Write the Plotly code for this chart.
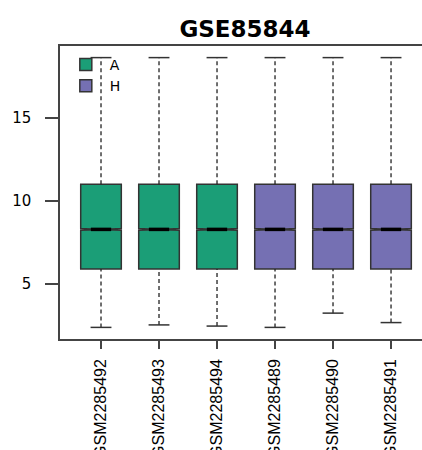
import plotly.graph_objects as go

samples = ["GSM2285492", "GSM2285493", "GSM2285494", "GSM2285489", "GSM2285490", "GSM2285491"]
groups = ["A", "A", "A", "H", "H", "H"]
q1 = [5.89, 5.89, 5.89, 5.89, 5.89, 5.89]
median = [8.28, 8.28, 8.28, 8.28, 8.28, 8.28]
q3 = [11.0, 11.0, 11.0, 11.0, 11.0, 11.0]
lower_whisker = [2.37, 2.52, 2.45, 2.37, 3.23, 2.66]
upper_whisker = [18.64, 18.64, 18.64, 18.64, 18.64, 18.64]
group_colors = {"A": "#1B9E77", "H": "#7570B3"}

box_w = 0.7
cap_half = 0.18
med_half = box_w / 4

fig = go.Figure()

positions = list(range(1, len(samples) + 1))
seen = set()
for i, (s, g) in enumerate(zip(samples, groups)):
    xpos = positions[i]
    fig.add_trace(go.Box(
        x=[xpos], q1=[q1[i]], median=[median[i]], q3=[q3[i]],
        lowerfence=[q1[i]], upperfence=[q3[i]],
        notched=True, notchspan=[0.05], notchwidth=0.5,
        width=box_w, fillcolor=group_colors[g],
        line=dict(color="#333333", width=1.5),
        name=g, legendgroup=g, showlegend=g not in seen,
        hoverinfo="skip",
    ))
    seen.add(g)

# dashed whiskers
wx, wy = [], []
for i, xpos in enumerate(positions):
    wx += [xpos, xpos, None, xpos, xpos, None]
    wy += [q3[i], upper_whisker[i], None, lower_whisker[i], q1[i], None]
fig.add_trace(go.Scatter(x=wx, y=wy, mode="lines",
                         line=dict(color="#222222", width=1.3, dash="4px,3px"),
                         showlegend=False, hoverinfo="skip"))

# caps
cx, cy = [], []
for i, xpos in enumerate(positions):
    cx += [xpos - cap_half, xpos + cap_half, None, xpos - cap_half, xpos + cap_half, None]
    cy += [upper_whisker[i], upper_whisker[i], None, lower_whisker[i], lower_whisker[i], None]
fig.add_trace(go.Scatter(x=cx, y=cy, mode="lines",
                         line=dict(color="#333333", width=1.5),
                         showlegend=False, hoverinfo="skip"))

# medians
mx, my = [], []
for i, xpos in enumerate(positions):
    mx += [xpos - med_half, xpos + med_half, None]
    my += [median[i], median[i], None]
fig.add_trace(go.Scatter(x=mx, y=my, mode="lines",
                         line=dict(color="#000000", width=3.5),
                         showlegend=False, hoverinfo="skip"))

fig.update_layout(
    width=422, height=450,
    margin=dict(l=60, r=0, t=46, b=111, autoexpand=False),
    paper_bgcolor="white", plot_bgcolor="white",
    boxmode="overlay",
    title=dict(text="<b>GSE85844</b>", xref="paper", x=0.511, xanchor="center",
               yref="container", y=0.935, yanchor="middle",
               font=dict(family="DejaVu Sans", size=23, color="black")),
    legend=dict(x=0.005, y=0.99, xanchor="left", yanchor="top",
                bgcolor="rgba(0,0,0,0)", font=dict(family="DejaVu Sans", size=14, color="black"),
                tracegroupgap=0, itemwidth=38),
    showlegend=True,
)
fig.update_xaxes(
    range=[0.293, 6.534], tickmode="array", tickvals=positions, ticktext=samples,
    tickangle=-90, ticks="outside", ticklen=8, tickcolor="#444444", tickwidth=1.5,
    showline=True, linecolor="#444444", linewidth=1.5, mirror=True,
    showgrid=False, zeroline=False, ticklabelstandoff=4, automargin=False,
    tickfont=dict(family="Liberation Sans", size=16, color="black"),
)
fig.update_yaxes(
    range=[1.67, 19.34], tickmode="array", tickvals=[5, 10, 15],
    ticks="outside", ticklen=13, tickcolor="#444444", tickwidth=1.5,
    showline=True, linecolor="#444444", linewidth=1.5, mirror=False,
    showgrid=False, zeroline=False, ticklabelstandoff=11, automargin=False,
    tickfont=dict(family="DejaVu Sans", size=15, color="black"),
)

fig.write_html(
    "out.html",
    config={"displayModeBar": False},
    post_script="document.body.style.margin='0';document.body.style.overflow='hidden';",
)
